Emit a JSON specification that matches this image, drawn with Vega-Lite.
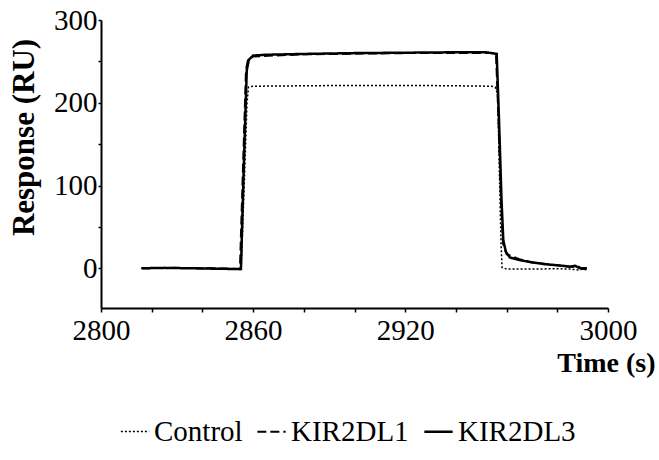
{
  "$schema": "https://vega.github.io/schema/vega-lite/v6.json",
  "width": 507,
  "height": 288,
  "autosize": {"type": "none"},
  "padding": {"left": 101, "top": 20, "right": 51, "bottom": 152},
  "background": "white",
  "config": {"view": {"stroke": null}},
  "data": {"values": [
    {"s": "Control", "t": 2816, "v": 0},
    {"s": "Control", "t": 2825, "v": 0.3},
    {"s": "Control", "t": 2835, "v": 0},
    {"s": "Control", "t": 2845, "v": -0.3},
    {"s": "Control", "t": 2855.3, "v": -0.5},
    {"s": "Control", "t": 2856.5, "v": 100},
    {"s": "Control", "t": 2857.6, "v": 200},
    {"s": "Control", "t": 2858.2, "v": 219},
    {"s": "Control", "t": 2860, "v": 220},
    {"s": "Control", "t": 2880, "v": 220.5},
    {"s": "Control", "t": 2900, "v": 221},
    {"s": "Control", "t": 2920, "v": 221},
    {"s": "Control", "t": 2940, "v": 220.5},
    {"s": "Control", "t": 2954, "v": 220},
    {"s": "Control", "t": 2955.5, "v": 219},
    {"s": "Control", "t": 2956.5, "v": 210},
    {"s": "Control", "t": 2957.2, "v": 110},
    {"s": "Control", "t": 2957.8, "v": 30},
    {"s": "Control", "t": 2958.2, "v": 1},
    {"s": "Control", "t": 2960, "v": -1},
    {"s": "Control", "t": 2970, "v": -1},
    {"s": "Control", "t": 2980, "v": -0.5},
    {"s": "Control", "t": 2985, "v": -1},
    {"s": "Control", "t": 2988, "v": -2},
    {"s": "Control", "t": 2990, "v": -1},
    {"s": "Control", "t": 2992, "v": -2},
    {"s": "KIR2DL1", "t": 2816, "v": 0},
    {"s": "KIR2DL1", "t": 2830, "v": 0.5},
    {"s": "KIR2DL1", "t": 2845, "v": 0},
    {"s": "KIR2DL1", "t": 2854.8, "v": -1},
    {"s": "KIR2DL1", "t": 2856, "v": 120},
    {"s": "KIR2DL1", "t": 2857.2, "v": 240},
    {"s": "KIR2DL1", "t": 2858, "v": 252},
    {"s": "KIR2DL1", "t": 2860, "v": 256},
    {"s": "KIR2DL1", "t": 2880, "v": 258.5},
    {"s": "KIR2DL1", "t": 2920, "v": 260},
    {"s": "KIR2DL1", "t": 2955.8, "v": 260},
    {"s": "KIR2DL1", "t": 2956.8, "v": 180},
    {"s": "KIR2DL1", "t": 2957.8, "v": 80},
    {"s": "KIR2DL1", "t": 2958.6, "v": 30},
    {"s": "KIR2DL1", "t": 2960, "v": 17},
    {"s": "KIR2DL1", "t": 2965, "v": 11},
    {"s": "KIR2DL1", "t": 2970, "v": 7},
    {"s": "KIR2DL1", "t": 2980, "v": 3.5},
    {"s": "KIR2DL1", "t": 2986, "v": 1.5},
    {"s": "KIR2DL1", "t": 2988, "v": 2.5},
    {"s": "KIR2DL1", "t": 2990, "v": -1},
    {"s": "KIR2DL1", "t": 2992, "v": -0.5},
    {"s": "KIR2DL3", "t": 2816, "v": 0},
    {"s": "KIR2DL3", "t": 2825, "v": 0.5},
    {"s": "KIR2DL3", "t": 2835, "v": 0},
    {"s": "KIR2DL3", "t": 2845, "v": -0.5},
    {"s": "KIR2DL3", "t": 2855.2, "v": -1},
    {"s": "KIR2DL3", "t": 2856.3, "v": 120},
    {"s": "KIR2DL3", "t": 2857.5, "v": 239},
    {"s": "KIR2DL3", "t": 2858.3, "v": 252},
    {"s": "KIR2DL3", "t": 2860, "v": 257},
    {"s": "KIR2DL3", "t": 2865, "v": 258},
    {"s": "KIR2DL3", "t": 2880, "v": 259},
    {"s": "KIR2DL3", "t": 2900, "v": 260},
    {"s": "KIR2DL3", "t": 2920, "v": 260.5},
    {"s": "KIR2DL3", "t": 2940, "v": 261},
    {"s": "KIR2DL3", "t": 2952, "v": 261},
    {"s": "KIR2DL3", "t": 2956.1, "v": 259},
    {"s": "KIR2DL3", "t": 2957, "v": 180},
    {"s": "KIR2DL3", "t": 2958, "v": 82},
    {"s": "KIR2DL3", "t": 2958.7, "v": 34},
    {"s": "KIR2DL3", "t": 2959.7, "v": 20},
    {"s": "KIR2DL3", "t": 2961.3, "v": 13},
    {"s": "KIR2DL3", "t": 2965, "v": 10},
    {"s": "KIR2DL3", "t": 2969.2, "v": 7.6},
    {"s": "KIR2DL3", "t": 2975, "v": 5},
    {"s": "KIR2DL3", "t": 2982.2, "v": 3},
    {"s": "KIR2DL3", "t": 2985, "v": 2},
    {"s": "KIR2DL3", "t": 2987, "v": 3},
    {"s": "KIR2DL3", "t": 2989, "v": 0},
    {"s": "KIR2DL3", "t": 2991.7, "v": 0}
  ]},
  "mark": {"type": "line", "color": "black"},
  "encoding": {
    "x": {
      "field": "t", "type": "quantitative",
      "scale": {"domain": [2800, 3000], "nice": false, "zero": false},
      "axis": {
        "values": [2800, 2820, 2840, 2860, 2880, 2900, 2920, 2940, 2960, 2980, 3000],
        "labelExpr": "indexof([2800, 2860, 2920, 3000], datum.value) >= 0 ? datum.label : ''",
        "format": "d",
        "labelFlush": false,
        "labelOverlap": false,
        "labelFont": "Times New Roman, Liberation Serif, DejaVu Serif, serif",
        "labelFontSize": 29,
        "labelColor": "black",
        "labelPadding": 4,
        "tickSize": 4,
        "tickColor": "black",
        "tickWidth": 1.5,
        "domainColor": "black",
        "domainWidth": 2,
        "grid": false,
        "title": "Time (s)",
        "titleFont": "Times New Roman, Liberation Serif, DejaVu Serif, serif",
        "titleFontSize": 28,
        "titleFontWeight": "bold",
        "titleColor": "black",
        "titleAnchor": "end",
        "titleAlign": "right",
        "titleBaseline": "alphabetic",
        "titleX": 554,
        "titleY": 63
      }
    },
    "y": {
      "field": "v", "type": "quantitative",
      "scale": {"domain": [-48, 300], "nice": false, "zero": false},
      "axis": {
        "values": [0, 50, 100, 150, 200, 250, 300],
        "labelExpr": "datum.value % 100 === 0 ? datum.label : ''",
        "labelFont": "Times New Roman, Liberation Serif, DejaVu Serif, serif",
        "labelFontSize": 29,
        "labelColor": "black",
        "labelPadding": 1,
        "labelFlush": false,
        "labelOverlap": false,
        "tickSize": 3,
        "tickColor": "black",
        "tickWidth": 1.5,
        "domainColor": "black",
        "domainWidth": 2,
        "grid": false,
        "title": "Response (RU)",
        "titleFont": "Times New Roman, Liberation Serif, DejaVu Serif, serif",
        "titleFontSize": 31,
        "titleFontWeight": "bold",
        "titleColor": "black",
        "titleAngle": -90,
        "titleAlign": "center",
        "titleBaseline": "alphabetic",
        "titleX": -68,
        "titleY": 117
      }
    },
    "strokeDash": {
      "field": "s", "type": "nominal",
      "scale": {"domain": ["Control", "KIR2DL1", "KIR2DL3"], "range": [[2, 2], [9, 4], [1, 0]]},
      "legend": {
        "orient": "none",
        "direction": "horizontal",
        "legendX": 19,
        "legendY": 396,
        "title": null,
        "symbolType": "stroke",
        "symbolSize": 800,
        "symbolStrokeColor": "black",
        "symbolStrokeWidth": 2,
        "labelFont": "Times New Roman, Liberation Serif, DejaVu Serif, serif",
        "labelFontSize": 29,
        "labelColor": "black",
        "labelOffset": 4,
        "columnPadding": 10
      }
    },
    "strokeWidth": {
      "field": "s", "type": "nominal",
      "scale": {"domain": ["Control", "KIR2DL1", "KIR2DL3"], "range": [1.5, 2.5, 2.5]},
      "legend": null
    }
  }
}
